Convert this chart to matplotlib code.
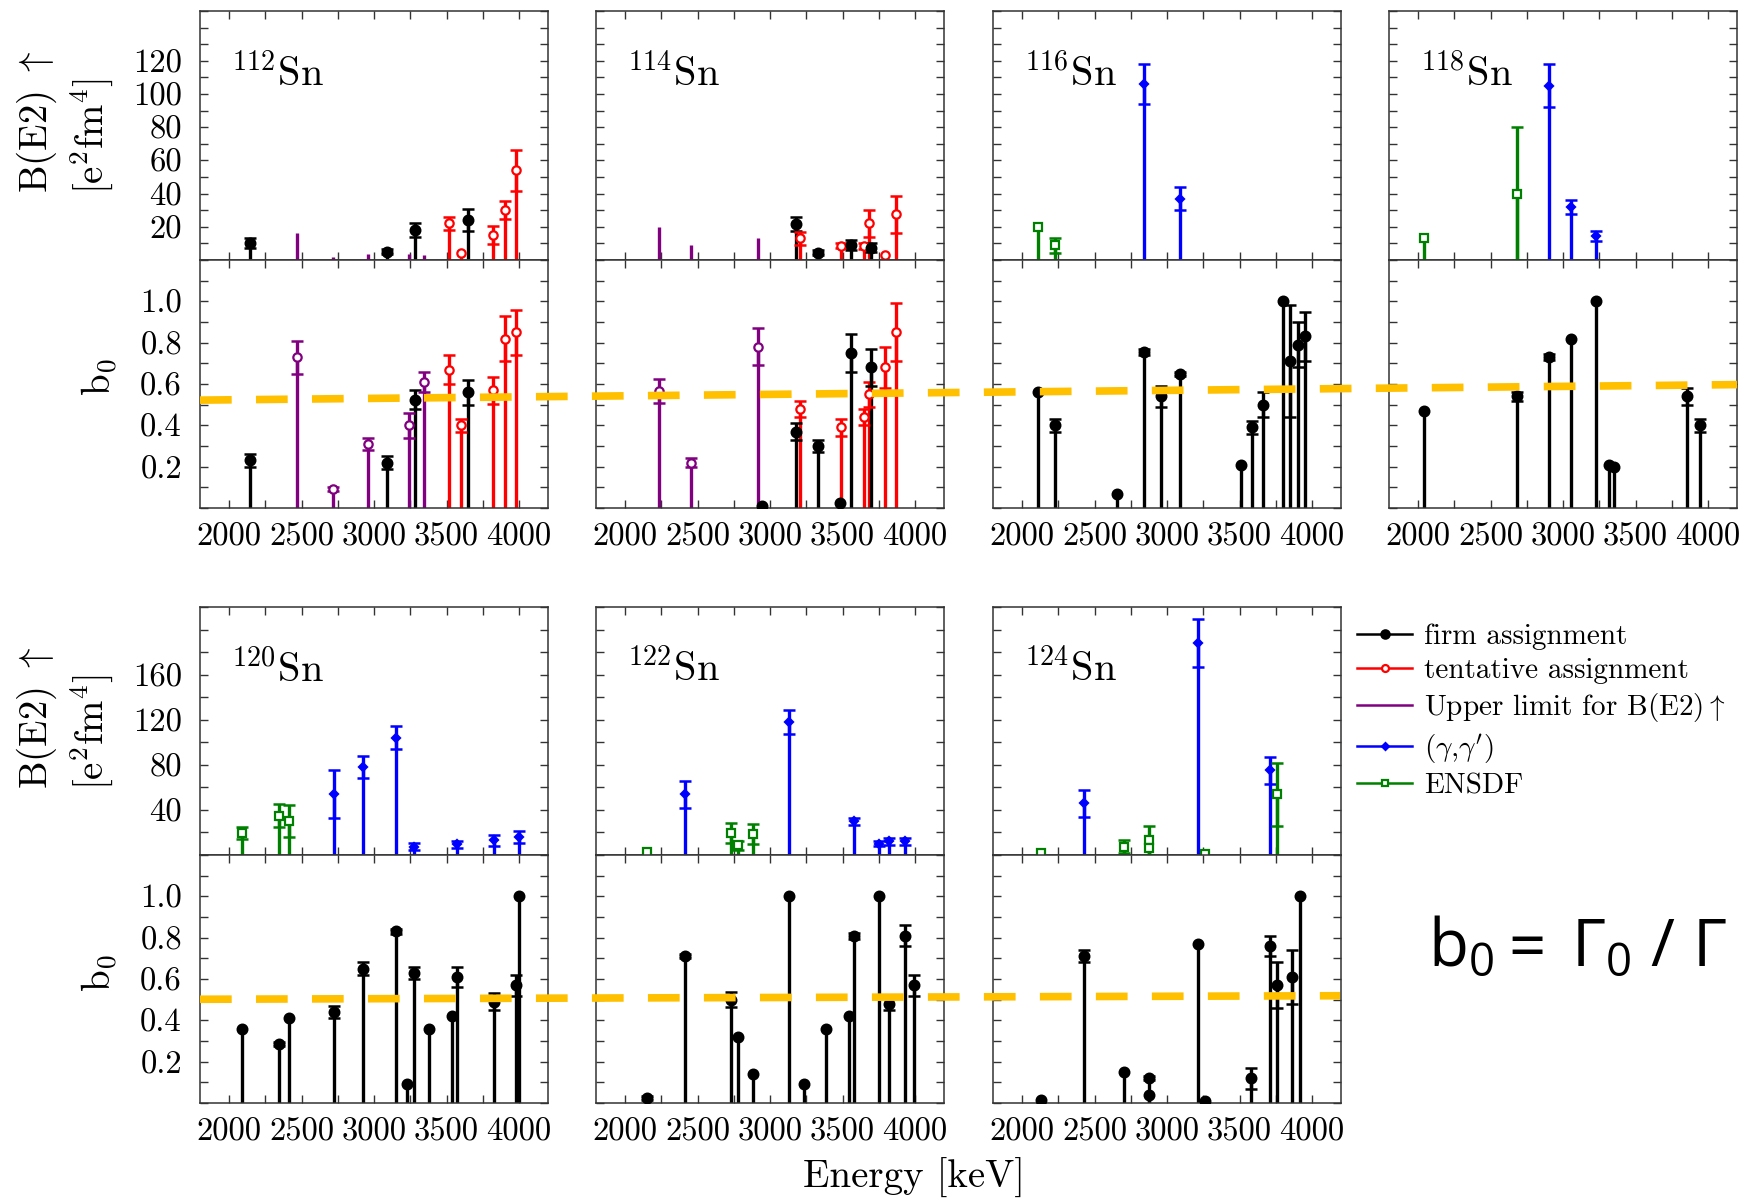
import matplotlib
matplotlib.use("Agg")
import matplotlib.pyplot as plt
from matplotlib.lines import Line2D
from matplotlib.ticker import FixedLocator, MultipleLocator

plt.rcParams["font.family"] = "serif"
plt.rcParams["font.serif"] = ["cmr10"]
plt.rcParams["mathtext.fontset"] = "cm"
plt.rcParams["axes.unicode_minus"] = False
# only used by the sans formula on the right (math_fontfamily="custom")
plt.rcParams["mathtext.rm"] = "Open Sans"
plt.rcParams["mathtext.it"] = "Open Sans:italic"
plt.rcParams["mathtext.sf"] = "Open Sans"

# Each entry: (energy in keV, value, error, kind)
# kind: firm / tent / limit / gg / ensdf ; error None -> bar only (upper limit)
be2_112 = [
    (2145, 10, 3, "firm"), (2468, 16, None, "limit"), (2717, 2, None, "limit"),
    (2958, 3.5, None, "limit"), (3090, 5, 1.5, "firm"), (3240, 3.5, None, "limit"),
    (3280, 18, 4, "firm"), (3345, 3, None, "limit"), (3515, 22, 4, "tent"),
    (3597, 4, 0, "tent"), (3645, 24, 6.5, "firm"), (3818, 15, 5.5, "tent"),
    (3900, 30, 5.5, "tent"), (3978, 54, 12.5, "tent"),
]
b0_112 = [
    (2145, 0.23, 0.03, "firm"), (2468, 0.73, 0.08, "limit"), (2717, 0.09, 0.01, "limit"),
    (2958, 0.31, 0.03, "limit"), (3090, 0.22, 0.03, "firm"), (3240, 0.40, 0.06, "limit"),
    (3280, 0.525, 0.047, "firm"), (3345, 0.61, 0.05, "limit"), (3515, 0.67, 0.07, "tent"),
    (3597, 0.40, 0.03, "tent"), (3645, 0.56, 0.06, "firm"), (3818, 0.57, 0.065, "tent"),
    (3900, 0.82, 0.11, "tent"), (3978, 0.85, 0.11, "tent"),
]

be2_114 = [
    (2237, 20, None, "limit"), (2452, 9, None, "limit"), (2915, 13.5, None, "limit"),
    (3182, 21.5, 4.3, "firm"), (3210, 13, 4, "tent"), (3329, 4.5, 1.5, "firm"),
    (3493, 8.5, 1.5, "tent"), (3560, 9, 3, "firm"), (3650, 8.5, 2, "tent"),
    (3680, 22, 8.3, "tent"), (3696, 7.5, 2.6, "firm"), (3792, 3, 0, "tent"),
    (3871, 27.5, 11, "tent"),
]
b0_114 = [
    (2237, 0.565, 0.058, "limit"), (2452, 0.22, 0.02, "limit"), (2915, 0.78, 0.09, "limit"),
    (2944, 0.01, 0, "firm"), (3182, 0.37, 0.04, "firm"), (3210, 0.48, 0.04, "tent"),
    (3329, 0.30, 0.03, "firm"), (3486, 0.025, 0, "firm"), (3493, 0.39, 0.04, "tent"),
    (3560, 0.75, 0.09, "firm"), (3650, 0.44, 0.04, "tent"), (3680, 0.55, 0.06, "tent"),
    (3696, 0.68, 0.09, "firm"), (3792, 0.68, 0.10, "tent"), (3871, 0.85, 0.14, "tent"),
]

be2_116 = [
    (2110, 20, 0, "ensdf"), (2226, 9, 4.5, "ensdf"),
    (2843, 106, 12, "gg"), (3088, 37, 7, "gg"),
]
b0_116 = [
    (2110, 0.56, 0, "firm"), (2226, 0.40, 0.03, "firm"), (2657, 0.07, 0, "firm"),
    (2843, 0.753, 0.015, "firm"), (2961, 0.54, 0.05, "firm"), (3088, 0.65, 0.01, "firm"),
    (3512, 0.21, 0, "firm"), (3585, 0.39, 0.03, "firm"), (3659, 0.50, 0.06, "firm"),
    (3802, 1.0, 0, "firm"), (3848, 0.71, 0.27, "firm"), (3903, 0.79, 0.11, "firm"),
    (3954, 0.83, 0.12, "firm"),
]

be2_118 = [
    (2044, 13, 0, "ensdf"), (2680, 40, 40, "ensdf"), (2903, 105, 13, "gg"),
    (3055, 32, 4, "gg"), (3228, 14.5, 3, "gg"),
]
b0_118 = [
    (2044, 0.47, 0, "firm"), (2680, 0.54, 0.02, "firm"), (2903, 0.73, 0.015, "firm"),
    (3055, 0.82, 0, "firm"), (3228, 1.0, 0, "firm"), (3315, 0.21, 0, "firm"),
    (3355, 0.20, 0, "firm"), (3857, 0.54, 0.04, "firm"), (3943, 0.40, 0.03, "firm"),
]

be2_120 = [
    (2088, 19.5, 5.5, "ensdf"), (2348, 35, 10.5, "ensdf"), (2412, 30, 14, "ensdf"),
    (2726, 54, 21, "gg"), (2922, 78, 10, "gg"), (3152, 104, 10, "gg"),
    (3279, 7.5, 3, "gg"), (3574, 9.5, 3, "gg"), (3827, 13, 5, "gg"), (4002, 16, 5, "gg"),
]
b0_120 = [
    (2088, 0.36, 0, "firm"), (2348, 0.285, 0.01, "firm"), (2412, 0.41, 0, "firm"),
    (2726, 0.44, 0.03, "firm"), (2922, 0.65, 0.03, "firm"), (3152, 0.83, 0.01, "firm"),
    (3230, 0.09, 0, "firm"), (3279, 0.63, 0.03, "firm"), (3378, 0.36, 0, "firm"),
    (3541, 0.42, 0, "firm"), (3574, 0.61, 0.05, "firm"), (3827, 0.49, 0.04, "firm"),
    (3977, 0.57, 0.05, "firm"), (4002, 1.0, 0, "firm"),
]

be2_122 = [
    (2152, 3, 0, "ensdf"), (2415, 54, 12, "gg"), (2728, 19.5, 8.5, "ensdf"),
    (2776, 8.5, 3.8, "ensdf"), (2880, 18.5, 9, "ensdf"), (3129, 118, 11, "gg"),
    (3581, 30, 3.2, "gg"), (3751, 10, 2, "gg"), (3820, 12, 3, "gg"), (3931, 12, 3, "gg"),
]
b0_122 = [
    (2152, 0.026, 0.01, "firm"), (2415, 0.71, 0.01, "firm"), (2728, 0.50, 0.035, "firm"),
    (2776, 0.32, 0, "firm"), (2880, 0.14, 0, "firm"), (3129, 1.0, 0, "firm"),
    (3235, 0.09, 0, "firm"), (3387, 0.36, 0, "firm"), (3546, 0.42, 0, "firm"),
    (3581, 0.81, 0.015, "firm"), (3751, 1.0, 0, "firm"), (3820, 0.48, 0.03, "firm"),
    (3931, 0.81, 0.05, "firm"), (3993, 0.57, 0.05, "firm"),
]

be2_124 = [
    (2129, 1.5, 0, "ensdf"), (2428, 46, 12, "gg"), (2705, 7.5, 6, "ensdf"),
    (2878, 13, 13, "ensdf"), (2878, 6, 0, "ensdf"), (3217, 188, 21, "gg"),
    (3263, 0.6, 0, "ensdf"), (3710, 75, 12, "gg"), (3756, 54, 28, "ensdf"),
]
b0_124 = [
    (2129, 0.014, 0, "firm"), (2428, 0.71, 0.03, "firm"), (2705, 0.15, 0, "firm"),
    (2878, 0.12, 0.01, "firm"), (2878, 0.04, 0, "firm"), (3217, 0.77, 0, "firm"),
    (3263, 0.012, 0, "firm"), (3581, 0.12, 0.05, "firm"), (3710, 0.76, 0.05, "firm"),
    (3756, 0.57, 0.11, "firm"), (3861, 0.61, 0.13, "firm"), (3916, 1.0, 0, "firm"),
]

nuclei = ["112", "114", "116", "118", "120", "122", "124"]
be2_sets = [be2_112, be2_114, be2_116, be2_118, be2_120, be2_122, be2_124]
b0_sets = [b0_112, b0_114, b0_116, b0_118, b0_120, b0_122, b0_124]

legend_labels = [
    "firm assignment",
    "tentative assignment",
    r"Upper limit for B(E2)$\uparrow$",
    r"$(\gamma{,}\gamma')$",
    "ENSDF",
]

# pieces of the b0 definition on the right
formula_parts = [r"$\mathrm{b_0}$", r"$\mathrm{=}$", r"$\mathrm{\Gamma_0}$",
                 r"$\mathrm{/}$", r"$\mathrm{\Gamma}$"]

# trend of b0 drawn across each row (value at left / right end)
trend_top = [0.522, 0.597]
trend_bottom = [0.502, 0.519]

STYLES = {
    "firm": dict(color="black", marker="o", mfc="black", ms=7),
    "tent": dict(color="red", marker="o", mfc="white", ms=6),
    "limit": dict(color="#800080", marker="o", mfc="white", ms=6),
    "gg": dict(color="blue", marker="D", mfc="blue", ms=4.5),
    "ensdf": dict(color="#008000", marker="s", mfc="white", ms=6),
}

W, H = 1743, 1200
COL_LEFT = [200, 596, 993, 1389]
COL_W = 348
ROWS = [(11, 260, 508), (607, 855, 1103)]
FORMULA_X = [1428, 1497, 1571, 1650, 1692]
STEM_LW = 2.4
TICK_FS = 23.5
LABEL_FS = 28
GRAY = "#333333"


def add_axes_px(fig, left, top, bottom):
    """Add an axes given in pixel coordinates of the figure."""
    return fig.add_axes([left / W, 1 - bottom / H, COL_W / W, (bottom - top) / H])


def draw_points(ax, points):
    """Draw stems with error bars and markers."""
    for energy, value, err, kind in points:
        st = STYLES[kind]
        ax.vlines(energy, 0, value, colors=st["color"], lw=STEM_LW, zorder=2)
        if err is None:
            continue
        if err > 0:
            ax.errorbar(energy, value, yerr=err, fmt="none", ecolor=st["color"],
                        elinewidth=STEM_LW, capsize=4, capthick=1.8, zorder=3)
        ax.plot(energy, value, ls="none", marker=st["marker"], color=st["color"],
                mfc=st["mfc"], mec=st["color"], ms=st["ms"], mew=1.6, zorder=4)


def style_axes(ax):
    """Ticks inside on all sides, gray frame."""
    ax.set_xlim(1800, 4200)
    ax.xaxis.set_major_locator(FixedLocator([2000, 2500, 3000, 3500, 4000]))
    ax.xaxis.set_minor_locator(MultipleLocator(250))
    ax.tick_params(which="both", direction="in", top=True, right=True,
                   color=GRAY, width=1.0, labelsize=TICK_FS)
    ax.tick_params(which="major", length=6)
    ax.tick_params(which="minor", length=5.5)
    ax.tick_params(axis="y", pad=13)
    ax.tick_params(axis="x", pad=10.5)
    for sp in ax.spines.values():
        sp.set_color(GRAY)
        sp.set_linewidth(1.1)


def main():
    fig = plt.figure(figsize=(W / 100, H / 100), dpi=100)

    for i, nuc in enumerate(nuclei):
        row = 0 if i < 4 else 1
        col = i if i < 4 else i - 4
        top, mid, bottom = ROWS[row]
        left = COL_LEFT[col]

        ax_b = add_axes_px(fig, left, top, mid)
        ax_r = add_axes_px(fig, left, mid, bottom)

        draw_points(ax_b, be2_sets[i])
        draw_points(ax_r, b0_sets[i])

        style_axes(ax_b)
        style_axes(ax_r)
        ax_b.tick_params(labelbottom=False)

        if row == 0:
            ax_b.set_ylim(0, 150)
            ax_b.yaxis.set_major_locator(FixedLocator([20, 40, 60, 80, 100, 120]))
            ax_b.yaxis.set_minor_locator(MultipleLocator(10))
        else:
            ax_b.set_ylim(0, 220)
            ax_b.yaxis.set_major_locator(FixedLocator([40, 80, 120, 160]))
            ax_b.yaxis.set_minor_locator(MultipleLocator(20))
        ax_r.set_ylim(0, 1.2)
        ax_r.yaxis.set_major_locator(FixedLocator([0.2, 0.4, 0.6, 0.8, 1.0]))
        ax_r.yaxis.set_minor_locator(MultipleLocator(0.1))

        if col != 0:
            ax_b.tick_params(labelleft=False)
            ax_r.tick_params(labelleft=False)

        ax_b.text(0.088, 0.70, r"$^{%s}\mathrm{Sn}$" % nuc, transform=ax_b.transAxes,
                  va="baseline", ha="left", fontsize=29)

    # y labels for both rows
    for shift in (0, 596):
        fig.text(37 / W, 1 - (122 + shift) / H, r"B(E2)$\ \uparrow$", rotation=90,
                 ha="center", va="center", fontsize=LABEL_FS)
        fig.text(92 / W, 1 - (136 + shift) / H, r"[e$^2$fm$^4$]", rotation=90,
                 ha="center", va="center", fontsize=LABEL_FS)
        fig.text(100 / W, 1 - (377 + shift) / H, r"b$_0$", rotation=90,
                 ha="center", va="center", fontsize=LABEL_FS)

    fig.text(914 / W, 1 - 1178 / H, "Energy [keV]", ha="center", va="center",
             fontsize=LABEL_FS)

    # dashed b0 trend across the panels of each row
    for trend, (top, mid, bottom), x_end in ((trend_top, ROWS[0], 1737),
                                             (trend_bottom, ROWS[1], 1340)):
        ys = [1 - (bottom - v * (bottom - mid) / 1.2) / H for v in trend]
        fig.add_artist(Line2D([200 / W, x_end / W], ys, transform=fig.transFigure,
                              color="#FFC000", lw=5.5, dashes=(4.15, 3.18), zorder=10))

    handles = []
    for kind in ["firm", "tent", "limit", "gg", "ensdf"]:
        st = STYLES[kind]
        marker = None if kind == "limit" else st["marker"]
        handles.append(Line2D([], [], color=st["color"], lw=1.8, marker=marker,
                              mfc=st["mfc"], mec=st["color"], ms=st["ms"] - 1, mew=1.6))
    fig.legend(handles, legend_labels, loc="upper left",
               bbox_to_anchor=(1357 / W, 1 - 624 / H), frameon=False,
               fontsize=21, handlelength=1.9, handletextpad=0.4,
               labelspacing=0.25, borderpad=0, borderaxespad=0)

    # b0 = Gamma0 / Gamma, sans serif, set piece by piece
    for part, x in zip(formula_parts, FORMULA_X):
        fig.text(x / W, 1 - 966 / H, part, math_fontfamily="custom",
                 fontsize=47, va="baseline", ha="left")

    fig.savefig("out.png", dpi=100, facecolor="white")
    plt.close(fig)


if __name__ == "__main__":
    main()
